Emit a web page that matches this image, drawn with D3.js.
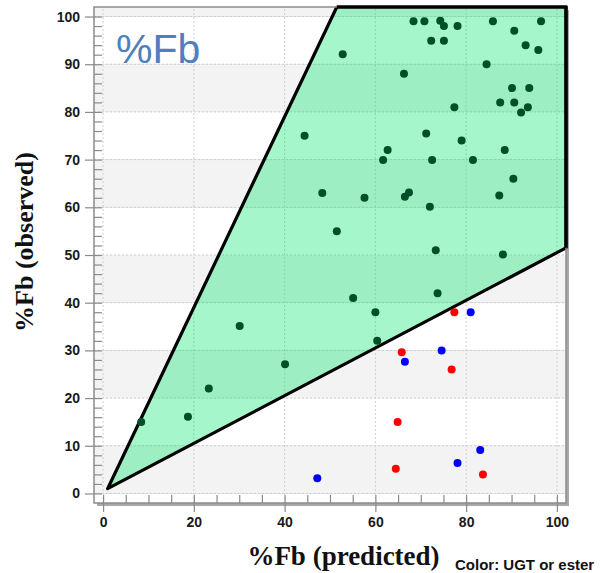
<!DOCTYPE html>
<html>
<head>
<meta charset="utf-8">
<script src="https://cdn.jsdelivr.net/npm/d3@7"></script>
<style>
    body { margin: 0; background: #fff; }
    .tick text { font-family: "Liberation Sans", Arial, sans-serif; font-weight: bold; font-size: 14px; fill: #1a1a1a; }
</style>
</head>
<body>
<div id="chart"></div>
<script>
// observed vs predicted %Fb, colour = group
var greenPred = [8.4, 18.7, 23.3, 30.1, 40.1, 44.4, 48.3, 51.5, 52.8, 55.1, 57.6, 60.0, 60.4, 61.7, 62.7, 66.3, 66.5, 67.4, 68.4, 70.8,
    71.2, 72.0, 72.3, 72.5, 73.3, 73.7, 74.3, 75.1, 75.1, 77.4, 78.1, 79.0, 81.5, 84.5, 85.9, 87.3, 87.5, 88.1, 88.5, 90.1,
    90.4, 90.6, 90.6, 92.1, 93.1, 93.6, 93.9, 95.9, 96.5];
var greenObs = [15.0, 16.1, 22.0, 35.1, 27.1, 75.0, 63.0, 55.0, 92.1, 41.0, 62.0, 38.0, 32.0, 69.9, 72.0, 88.0, 62.2, 63.1, 99.0, 99.0,
    75.5, 60.1, 94.9, 69.9, 51.0, 42.0, 99.1, 98.0, 94.9, 81.0, 98.0, 74.0, 69.9, 90.0, 99.0, 62.5, 82.0, 50.1, 72.0, 85.0,
    66.0, 97.0, 82.0, 79.9, 94.0, 81.0, 85.0, 93.0, 99.0];
var redPred = [77.4, 65.8, 76.8, 64.9, 64.5, 83.7];
var redObs = [38.0, 29.6, 26.0, 15.0, 5.2, 4.0];
var bluePred = [81.0, 74.6, 66.5, 47.2, 83.1, 78.1];
var blueObs = [38.0, 30.0, 27.6, 3.2, 9.1, 6.4];

// 2-fold band corners
var bandPred = [1, 51.5, 102, 102];
var bandObs = [1, 102, 102, 51.5];

var xTicks = [0, 20, 40, 60, 80, 100];
var yTicks = [0, 10, 20, 30, 40, 50, 60, 70, 80, 90, 100];
var bandBreaks = [-2, 0, 10, 20, 30, 40, 50, 60, 70, 80, 90, 100, 102];

var width = 600, height = 573;
var svg = d3.select("#chart").append("svg")
    .attr("width", width)
    .attr("height", height);

var x = d3.scaleLinear().domain([-2, 102]).range([94, 566]);
var y = d3.scaleLinear().domain([-2, 102]).range([503, 7]);

// frame shadow
svg.append("rect")
    .attr("x", x(-2) + 3).attr("y", y(102) + 3)
    .attr("width", x(102) - x(-2)).attr("height", y(-2) - y(102))
    .style("fill", "#a8a8a8");

// alternating bands
var bands = [];
for (var i = 0; i < bandBreaks.length - 1; i++) {
    bands.push({lo: bandBreaks[i], hi: bandBreaks[i + 1], odd: i % 2});
}
svg.selectAll(".band")
    .data(bands)
    .enter().append("rect")
    .attr("class", "band")
    .attr("x", x(-2))
    .attr("width", x(102) - x(-2))
    .attr("y", function (d) { return y(d.hi); })
    .attr("height", function (d) { return y(d.lo) - y(d.hi); })
    .style("fill", function (d) { return d.odd ? "#f3f3f3" : "#ffffff"; });

// dotted grid
svg.selectAll(".hgrid")
    .data(yTicks)
    .enter().append("line")
    .attr("x1", x(-2)).attr("x2", x(102))
    .attr("y1", function (d) { return y(d); })
    .attr("y2", function (d) { return y(d); })
    .style("stroke", "#cfcfcf")
    .style("stroke-dasharray", "2,2");
svg.selectAll(".vgrid")
    .data(xTicks)
    .enter().append("line")
    .attr("y1", y(-2)).attr("y2", y(102))
    .attr("x1", function (d) { return x(d); })
    .attr("x2", function (d) { return x(d); })
    .style("stroke", "#cfcfcf")
    .style("stroke-dasharray", "2,2");

// band polygon
var band = bandPred.map(function (p, i) { return [x(p), y(bandObs[i])]; });
svg.append("path")
    .attr("d", "M" + band.join("L") + "Z")
    .style("fill", "rgb(0,230,110)")
    .style("fill-opacity", 0.35)
    .style("stroke", "none");
svg.append("path")
    .attr("d", "M" + band[1] + "L" + band[0] + "L" + band[3] + "L" + band[2] + "L" + band[1])
    .style("fill", "none")
    .style("stroke", "#000")
    .style("stroke-width", 3.2)
    .style("stroke-linejoin", "round");

// axes
var minorY = d3.range(0, 101, 2);
var minorX = d3.range(0, 101, 5);

var gyMinor = svg.append("g")
    .attr("transform", "translate(" + x(-2) + ",0)")
    .call(d3.axisLeft(y).tickValues(minorY).tickSize(-8).tickFormat(""));
var gy = svg.append("g")
    .attr("transform", "translate(" + x(-2) + ",0)")
    .call(d3.axisLeft(y).tickValues(yTicks).tickSizeInner(9).tickSizeOuter(0).tickPadding(5));
var gxMinor = svg.append("g")
    .attr("transform", "translate(0," + y(-2) + ")")
    .call(d3.axisBottom(x).tickValues(minorX).tickSize(-8).tickFormat(""));
var gx = svg.append("g")
    .attr("transform", "translate(0," + y(-2) + ")")
    .call(d3.axisBottom(x).tickValues(xTicks).tickSizeInner(9).tickSizeOuter(0).tickPadding(5));

[gyMinor, gy, gxMinor, gx].forEach(function (g) {
    g.select(".domain").remove();
    g.selectAll(".tick line").style("stroke", "#8a8a8a").style("stroke-width", 1.2);
});

// frame
svg.append("rect")
    .attr("x", x(-2)).attr("y", y(102))
    .attr("width", x(102) - x(-2)).attr("height", y(-2) - y(102))
    .style("fill", "none")
    .style("stroke", "#8c8c8c")
    .style("stroke-width", 1.5);
// redraw the band outline edges that sit on the frame
svg.append("path")
    .attr("d", "M" + band[1] + "L" + band[2] + "L" + band[3])
    .style("fill", "none")
    .style("stroke", "#000")
    .style("stroke-width", 3.2);

// points
function dots(px, py, col) {
    svg.append("g").selectAll("circle")
        .data(px)
        .enter().append("circle")
        .attr("cx", function (d) { return x(d); })
        .attr("cy", function (d, i) { return y(py[i]); })
        .attr("r", 4)
        .style("fill", col);
}
dots(greenPred, greenObs, "#004f28");
dots(redPred, redObs, "#ff0000");
dots(bluePred, blueObs, "#0000ff");

// texts
svg.append("text")
    .attr("x", 116)
    .attr("y", 63)
    .style("font-family", "'Liberation Sans', Arial, sans-serif")
    .style("font-size", "41px")
    .style("fill", "#4f7fbd")
    .text("%Fb");

svg.append("text")
    .attr("x", 343.5)
    .attr("y", 565)
    .attr("text-anchor", "middle")
    .style("font-family", "'Liberation Serif', 'Times New Roman', serif")
    .style("font-weight", "bold")
    .style("font-size", "27px")
    .style("fill", "#111")
    .text("%Fb (predicted)");

svg.append("text")
    .attr("transform", "translate(33,242) rotate(-90)")
    .attr("text-anchor", "middle")
    .style("font-family", "'Liberation Serif', 'Times New Roman', serif")
    .style("font-weight", "bold")
    .style("font-size", "26px")
    .style("fill", "#111")
    .text("%Fb (observed)");

svg.append("text")
    .attr("x", 455)
    .attr("y", 570)
    .style("font-family", "'Liberation Sans', Arial, sans-serif")
    .style("font-weight", "bold")
    .style("font-size", "15px")
    .style("fill", "#111")
    .text("Color: UGT or ester");
</script>
</body>
</html>
